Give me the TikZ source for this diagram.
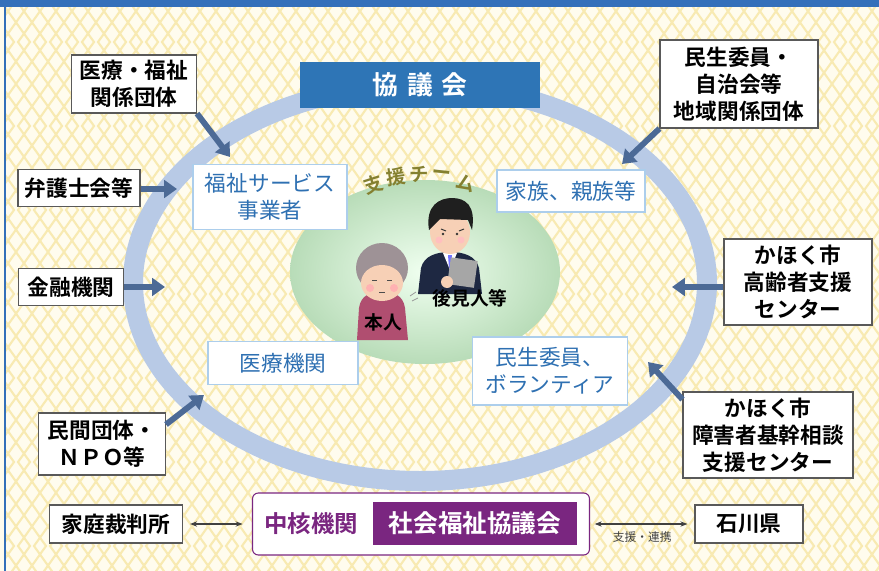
\documentclass[tikz,border=0pt]{standalone}
\usepackage{fontspec}
\setmainfont{Noto Sans CJK JP}[BoldFont={* Bold}]
\usetikzlibrary{arrows.meta, positioning, calc}
\definecolor{paper}{RGB}{255,252,238}
\definecolor{zigzag}{RGB}{248,234,178}
\definecolor{frameblue}{RGB}{52,112,186}
\definecolor{ringblue}{RGB}{184,202,230}
\definecolor{council}{RGB}{46,117,182}
\definecolor{inblue}{RGB}{46,112,178}
\definecolor{inborder}{RGB}{172,206,236}
\definecolor{linkblue}{RGB}{76,106,150}
\definecolor{hubpurple}{RGB}{122,38,128}
\definecolor{teamgreen}{RGB}{184,220,184}
\definecolor{teamtext}{RGB}{132,128,48}
\definecolor{skin}{RGB}{247,208,182}
\definecolor{hairgray}{RGB}{158,146,150}
\definecolor{dress}{RGB}{176,78,112}
\definecolor{suit}{RGB}{30,40,66}

\tikzset{
  outerbox/.style={draw=black!65, fill=white, line width=0.9pt, align=center,
    inner sep=0pt, font=\bfseries\fontsize{18.5}{23}\selectfont},
  innerbox/.style={draw=inborder, fill=white, line width=0.9pt, align=center,
    inner sep=0pt, text=inblue, font=\fontsize{18.5}{23}\selectfont},
  feed/.style={linkblue, line width=5pt, -{Triangle[length=11pt, width=15pt]}},
  bothway/.style={black!75, line width=0.9pt, {Stealth[length=6pt]}-{Stealth[length=6pt]}},
  figlabel/.style={font=\bfseries\fontsize{16}{18}\selectfont}
}

\begin{document}
\begin{tikzpicture}[x=0.3mm, y=-0.3mm]
    \useasboundingbox (0,0) rectangle (879,571);

    % Paper with zigzag pattern
    \fill[paper] (0,0) rectangle (879,571);
    \begin{scope}
        \clip (6,0) rectangle (879,571);
        \foreach \k in {-3,...,60} {
            \draw[zigzag, line width=1.8pt] (\k*16,0) \foreach \j in {1,...,7} { -- ++(30,42) -- ++(-30,42) };
            \draw[zigzag, line width=1.8pt] (\k*16,0) \foreach \j in {1,...,7} { -- ++(-30,42) -- ++(30,42) };
        }
    \end{scope}
    \fill[frameblue] (0,0) rectangle (879,7);
    \draw[frameblue, line width=1.8pt] (5,0) -- (5,571);

    % Network ring and support team
    \draw[ringblue, line width=20*0.3mm] (420,283) ellipse [x radius=287, y radius=198];
    \shade[inner color=green!6!white, outer color=teamgreen] (425,272) ellipse [x radius=135, y radius=92];
    \foreach \c/\x/\y/\r in {支/373/185/18, 援/396/177/8, チ/419/174/0, ー/442/175/-6, ム/466/183/-16}
        \node[teamtext, inner sep=0pt, rotate=\r, font=\bfseries\fontsize{16.5}{17}\selectfont] at (\x,\y) {\c};

    % Person in need of support
    \fill[dress] (357,340) -- (359,308) .. controls (361,295) and (370,292) .. (382,292)
        .. controls (394,292) and (403,295) .. (405,308) -- (408,340) -- cycle;
    \fill[hairgray] (382,268) ellipse [x radius=26, y radius=25];
    \fill[skin] (382,283) ellipse [x radius=21, y radius=18];
    \fill[red!30] (370,288) circle (4) (394,288) circle (4);
    \draw[black!70, line width=0.7pt] (372,280) -- (377,280) (387,280) -- (392,280) (379,292) -- (385,292);
    \draw[black!40, line width=0.7pt] (410,296) -- (416,292) (412,301) -- (418,298);

    % Guardian
    \fill[suit] (418,294) -- (421,268) .. controls (424,256) and (436,252) .. (450,252)
        .. controls (464,252) and (476,256) .. (479,268) -- (482,294) -- cycle;
    \fill[white] (443,253) -- (457,253) -- (450,270) -- cycle;
    \fill[blue!55] (448,255) -- (452,255) -- (451,268) -- (449,268) -- cycle;
    \fill[skin] (450,232) ellipse [x radius=20, y radius=22];
    \fill[black!88] (429,230) .. controls (425,205) and (440,198) .. (452,198)
        .. controls (466,198) and (476,206) .. (472,230) -- (468,220) -- (440,219) -- cycle;
    \fill[red!25] (439,240) circle (3.5) (461,240) circle (3.5);
    \draw[black!80, line width=0.8pt] (441,229) -- (446,231) (459,231) -- (464,229);
    \fill[black!80] (443,234) circle (1.4) (457,234) circle (1.4);
    \fill[gray!70, rotate around={-8:(462,272)}] (449,259) rectangle (476,286);
    \fill[skin] (447,282) circle (6);

    % Figure labels
    \node[figlabel] (honnin) at (383,322) {本人};
    \node[figlabel] (kouken) at (470,298) {後見人等};

    % Council
    \node[fill=council, text=white, minimum width=240*0.3mm, minimum height=46*0.3mm,
        font=\bfseries\fontsize{22}{22}\selectfont] (kyogi) at (420,85) {協\hspace{0.35em}議\hspace{0.35em}会};

    % Members of the support team
    \node[innerbox, minimum width=154*0.3mm, minimum height=65*0.3mm] (fukushi) at (270,197) {福祉サービス\\事業者};
    \node[innerbox, minimum width=148*0.3mm, minimum height=42*0.3mm] (kazoku) at (571,191) {家族、親族等};
    \node[innerbox, minimum width=150*0.3mm, minimum height=43*0.3mm] (iryo) at (283,363) {医療機関};
    \node[innerbox, minimum width=155*0.3mm, minimum height=68*0.3mm] (minseiin) at (550,371) {民生委員、\\ボランティア};

    % Outside organisations
    \node[outerbox, minimum width=125*0.3mm, minimum height=58*0.3mm] (iryofuku) at (134,84) {医療・福祉\\関係団体};
    \node[outerbox, minimum width=122*0.3mm, minimum height=37*0.3mm] (bengo) at (79,188) {弁護士会等};
    \node[outerbox, minimum width=105*0.3mm, minimum height=37*0.3mm] (kinyu) at (71,287) {金融機関};
    \node[outerbox, minimum width=127*0.3mm, minimum height=62*0.3mm] (minkan) at (102,444) {民間団体・\\ＮＰＯ等};
    \node[outerbox, minimum width=158*0.3mm, minimum height=88*0.3mm] (chiiki) at (739,84) {民生委員・\\自治会等\\地域関係団体};
    \node[outerbox, minimum width=148*0.3mm, minimum height=86*0.3mm] (korei) at (798,282) {かほく市\\高齢者支援\\センター};
    \node[outerbox, minimum width=170*0.3mm, minimum height=86*0.3mm] (shogai) at (768,435) {かほく市\\障害者基幹相談\\支援センター};
    \node[outerbox, minimum width=133*0.3mm, minimum height=38*0.3mm] (katei) at (116,524) {家庭裁判所};
    \node[outerbox, minimum width=108*0.3mm, minimum height=38*0.3mm] (ishikawa) at (749,524) {石川県};

    % Core agency
    \node[draw=hubpurple, fill=white, line width=0.9pt, rounded corners=5pt,
        minimum width=337*0.3mm, minimum height=62*0.3mm] (chukaku) at (421,524) {};
    \node[text=hubpurple, font=\bfseries\fontsize{20}{20}\selectfont] (chukakulbl) at (311,524) {中核機関};
    \node[fill=hubpurple, text=white, minimum width=204*0.3mm, minimum height=43*0.3mm,
        font=\bfseries\fontsize{21}{21}\selectfont] (shakyo) at (475,523) {社会福祉協議会};

    % Arrows into the ring
    \coordinate (t1) at (230,157);
    \coordinate (t2) at (177,189);
    \coordinate (t3) at (165,287);
    \coordinate (t4) at (204,395);
    \coordinate (t5) at (622,164);
    \coordinate (t6) at (672,287);
    \coordinate (t7) at (648,362);
    \draw[feed] (iryofuku.south east) -- (t1);
    \draw[feed] (bengo.east |- t2) -- (t2);
    \draw[feed] (kinyu.east |- t3) -- (t3);
    \draw[feed] ($(minkan.north east)+(0,12)$) -- (t4);
    \draw[feed] (chiiki.south west) -- (t5);
    \draw[feed] (korei.west |- t6) -- (t6);
    \draw[feed] ($(shogai.north west)+(0,8)$) -- (t7);

    % Links of the core agency
    \draw[bothway, shorten <=6pt, shorten >=8pt] (katei) -- (chukaku);
    \draw[bothway, shorten <=4pt, shorten >=6pt] (chukaku.east |- ishikawa) -- (ishikawa)
        node[midway, below=3pt, font=\fontsize{10}{10}\selectfont, black!75] {支援・連携};
\end{tikzpicture}
\end{document}
